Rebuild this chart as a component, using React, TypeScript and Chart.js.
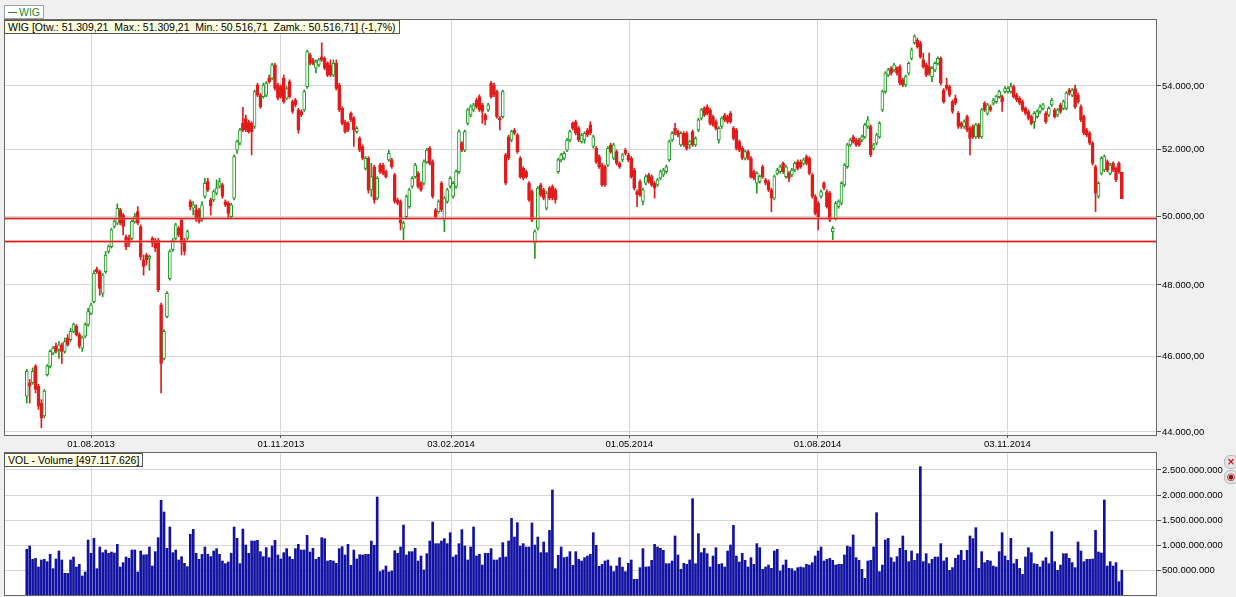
import React, { useEffect, useRef } from 'react';
import { Chart, registerables } from 'chart.js';

Chart.register(...registerables);

// ---- WIG daily candles (trading-day index 0 = early July 2013) ----
const openValues = [
  44940, 45300, 45300, 45750, 45210, 44760, 44420, 45520, 45750, 46100,
  46290, 46200, 46330, 46150, 46520, 46470, 46700, 46840, 46610, 46240,
  46570, 46890, 47200, 47530, 48450, 48380, 47760, 48380, 48960, 49100,
  49690, 49790, 50180, 50030, 49390, 49340, 49340, 49840, 50130, 49690,
  48720, 48860, 48760, 49340, 49290, 49290, 47440, 45960, 47110, 48180,
  49010, 49340, 49640, 49880, 49290, 49340, 50430, 50230, 50180, 50180,
  49890, 50580, 51030, 50480, 50480, 50680, 50880, 50930, 50430, 50380,
  49980, 50530, 51990, 52200, 52820, 52970, 52870, 52820, 52720, 54030,
  53710, 53660, 53710, 54250, 54250, 54680, 54030, 53980, 54250, 53610,
  54140, 53500, 53550, 53240, 53190, 53240, 53980, 55000, 54840, 54570,
  54680, 54940, 54890, 54730, 54680, 54350, 54730, 54030, 53290, 52870,
  52820, 53130, 52980, 52560, 52350, 52100, 51430, 51740, 50780, 51480,
  50530, 51530, 51530, 51330, 51690, 51690, 51230, 50480, 50430, 49640,
  49980, 50280, 50880, 51180, 51280, 50980, 50980, 51630, 52040, 51630,
  50180, 50130, 50980, 49880, 50430, 50880, 50580, 50880, 51330, 52200,
  51990, 52820, 53080, 53240, 53555, 53660, 53400, 53080, 53240, 54090,
  54030, 53820, 52980, 53030, 51840, 52400, 52300, 52610, 52450, 51740,
  51430, 51330, 50980, 50730, 49200, 49640, 50930, 50780, 50230, 50830,
  50880, 50780, 51330, 51690, 51740, 51990, 52300, 52820, 52870, 52660,
  52250, 52300, 52610, 52770, 52100, 52040, 51790, 51530, 51480, 51530,
  52150, 51740, 51940, 51580, 51690, 51990, 51840, 51740, 51380, 50730,
  51030, 50430, 50980, 51230, 51180, 50980, 50930, 51130, 51230, 51330,
  51690, 52300, 52660, 52560, 52150, 52510, 52510, 52150, 52560, 52150,
  52610, 52980, 53290, 53340, 53240, 53030, 52870, 52300, 52720, 53080,
  53030, 53130, 52660, 52610, 52250, 52040, 51740, 51940, 51740, 51330,
  50980, 51030, 51480, 51080, 51030, 50780, 50530, 51280, 51330, 51580,
  51180, 51280, 51230, 51380, 51630, 51630, 51580, 51790, 51740, 51230,
  50580, 50380, 50580, 50980, 50730, 50680, 49540, 49930, 50280, 50380,
  50930, 51480, 52150, 52400, 52300, 52300, 52300, 52400, 52720, 52720,
  52040, 52200, 52400, 53240, 53820, 54350, 54570, 54515, 54570, 54620,
  54200, 54030, 54410, 54890, 55400, 55490, 55400, 54840, 54680, 54620,
  54300, 54515, 54730, 54890, 53870, 54030, 53980, 53500, 53610, 53130,
  52820, 52720, 53030, 52660, 52720, 52400, 52770, 52400, 53450, 53130,
  53340, 53450, 53500, 53660, 53660, 53820, 53820, 53820, 53980, 53710,
  53610, 53500, 53290, 53190, 53030, 52870, 53030, 53190, 53290, 53130,
  53080, 53400, 53240, 53080, 53400, 53290, 53290, 53870, 53710, 53920,
  53710, 53340, 53030, 52610, 52510, 52200, 51480, 50580, 51280, 51380,
  51630, 51280, 51580, 51430, 51580, 51309.21,
];

const highValues = [
  45660, 45390, 45700, 45790, 45260, 44850, 45120, 45790, 46190, 46290,
  46380, 46420, 46380, 46520, 46610, 46790, 46930, 46890, 46660, 46570,
  46930, 47340, 47490, 48420, 48510, 48420, 48330, 48960, 49150, 49640,
  49930, 50360, 50230, 50080, 49440, 49440, 49890, 50080, 50280, 49740,
  48860, 48910, 48860, 49390, 49340, 49340, 47490, 46750, 47810, 49010,
  49340, 49790, 49690, 49930, 49340, 49590, 50480, 50430, 50330, 50230,
  50430, 51130, 51130, 50530, 50780, 51080, 51130, 50980, 50480, 50430,
  50380, 51840, 52300, 52660, 53320, 53080, 52920, 52870, 53870, 54090,
  53760, 54090, 54140, 54350, 54730, 54730, 54090, 54030, 54350, 53980,
  54200, 53560, 53610, 53290, 53240, 53870, 55160, 55060, 54890, 54840,
  54890, 55400, 54940, 54780, 54840, 54840, 54840, 54090, 53340, 52920,
  52870, 53180, 53030, 52720, 52400, 52150, 51790, 51790, 51580, 51530,
  51180, 51580, 51580, 51380, 51990, 51740, 51280, 50530, 50480, 49840,
  50630, 50830, 51180, 51580, 51330, 51030, 51690, 52040, 52100, 51690,
  50230, 50480, 51030, 50580, 50830, 51180, 51030, 51380, 52620, 52250,
  52610, 53290, 53400, 53450, 53610, 53720, 53450, 53130, 53450, 54150,
  54090, 53870, 53030, 53870, 51890, 52450, 52610, 52660, 52500, 51790,
  51480, 51380, 51030, 50780, 49590, 50880, 50980, 50830, 50730, 50880,
  50930, 50830, 51740, 51890, 51940, 52350, 52610, 52870, 52920, 52720,
  52500, 52560, 52660, 52870, 52450, 52100, 51840, 51580, 51530, 52100,
  52200, 52200, 51990, 51630, 51890, 52040, 51890, 51790, 51430, 50780,
  51080, 50830, 51230, 51280, 51230, 51030, 51130, 51380, 51430, 51530,
  52300, 52560, 52820, 52610, 52560, 52560, 52560, 52300, 52610, 52400,
  52980, 53290, 53340, 53400, 53290, 53080, 52925, 52720, 53030, 53130,
  53080, 53190, 52720, 52660, 52300, 52100, 51990, 51990, 51790, 51380,
  51330, 51230, 51530, 51130, 51080, 50830, 51230, 51430, 51530, 51630,
  51530, 51330, 51430, 51630, 51690, 51690, 51740, 51840, 51790, 51280,
  50630, 50430, 50780, 51030, 50780, 50730, 49690, 50430, 50480, 51030,
  51580, 52200, 52350, 52450, 52350, 52350, 52450, 52820, 53030, 52770,
  52200, 52510, 52870, 53870, 54460, 54570, 54620, 54730, 54620, 54680,
  54250, 54350, 54780, 55230, 55660, 55550, 55450, 55060, 54730, 55060,
  54620, 54780, 54940, 54940, 53920, 54250, 54030, 53555, 53710, 53190,
  52870, 52925, 53080, 52720, 52770, 52820, 52820, 53290, 53500, 53450,
  53400, 53610, 53710, 53870, 53710, 53980, 53980, 54090, 54030, 53770,
  53660, 53555, 53340, 53240, 53080, 53190, 53240, 53400, 53450, 53190,
  53340, 53610, 53290, 53290, 53450, 53555, 53820, 53920, 53920, 54030,
  53770, 53400, 53080, 52660, 52560, 52250, 51530, 51030, 51790, 51840,
  51690, 51580, 51630, 51480, 51630, 51309.21,
];

const lowValues = [
  44760, 44760, 45260, 45030, 44590, 44110, 44370, 45480, 45700, 46060,
  46100, 45960, 45820, 46100, 46290, 46420, 46660, 46570, 46240, 46150,
  46520, 46840, 47160, 47490, 48330, 47710, 47670, 48330, 48910, 49060,
  49640, 49740, 49740, 49440, 49010, 49100, 49290, 49790, 49740, 48720,
  48280, 48570, 48420, 49100, 48960, 47810, 45030, 45920, 47070, 48140,
  48960, 49290, 49390, 48860, 48860, 49290, 50180, 50030, 49840, 49790,
  49840, 50530, 50730, 50030, 50430, 50630, 50830, 50530, 50280, 49930,
  49930, 50480, 51890, 52150, 52560, 52560, 52510, 51840, 52660, 53660,
  53290, 53610, 53660, 54090, 54200, 53870, 53560, 53610, 53450, 53560,
  53610, 53130, 53340, 52510, 53030, 53190, 53920, 54680, 54680, 54420,
  54620, 54790, 54520, 54300, 54300, 54300, 53870, 53190, 52770, 52510,
  52560, 52870, 52100, 52510, 51940, 51690, 51380, 50680, 50580, 50380,
  50480, 51280, 51230, 51130, 51640, 51430, 50380, 50330, 49590, 49300,
  49930, 50230, 50830, 51130, 50830, 50730, 50930, 51580, 51530, 50530,
  49930, 50080, 50130, 49540, 50380, 50830, 50530, 50830, 51280, 51940,
  51940, 52770, 53030, 53190, 53290, 53190, 52820, 52770, 53190, 53610,
  53660, 52980, 52610, 52980, 50930, 51690, 52250, 52460, 51890, 51130,
  51080, 51130, 50430, 49830, 48760, 49590, 50580, 50480, 50180, 50480,
  50480, 50380, 51280, 51630, 51690, 51940, 52250, 52610, 52460, 52250,
  52200, 52200, 52400, 52460, 52050, 51580, 51430, 50880, 50880, 51480,
  51890, 51690, 51530, 51430, 51630, 51840, 51630, 51130, 50780, 50280,
  50580, 50330, 50930, 50980, 50880, 50530, 50880, 51080, 51180, 51280,
  51640, 52250, 52460, 52400, 52100, 52100, 51990, 52040, 52100, 52100,
  52560, 52925, 53030, 53080, 52770, 52720, 52610, 52200, 52660, 52870,
  52820, 52820, 52300, 51990, 51940, 51690, 51690, 51690, 51130, 51080,
  50680, 50980, 51130, 50930, 50730, 50130, 50480, 51230, 51280, 51280,
  51130, 51030, 51180, 51330, 51380, 51430, 51530, 51530, 51230, 50530,
  50030, 49590, 50530, 50780, 50230, 49830, 49300, 49880, 50230, 50330,
  50880, 51430, 52100, 52200, 52100, 52100, 52250, 52350, 52660, 51790,
  51990, 52150, 52350, 53190, 53770, 54300, 54350, 54460, 54350, 54030,
  53980, 53980, 54350, 54840, 55350, 55220, 54890, 54570, 54300, 54350,
  54140, 54460, 54680, 54030, 53450, 53870, 53660, 53130, 53400, 52660,
  52660, 52660, 52560, 51840, 52350, 52350, 52350, 52350, 53190, 53080,
  53190, 53400, 53450, 53610, 53190, 53770, 53770, 53770, 53610, 53500,
  53400, 53190, 53080, 52925, 52770, 52660, 52980, 53130, 53240, 52820,
  53030, 53350, 52980, 53030, 53130, 53240, 53240, 53710, 53660, 53290,
  53450, 52870, 52460, 52400, 52150, 51530, 50130, 50530, 51230, 51330,
  51330, 51230, 51330, 51030, 51280, 50516.71,
];

const closeValues = [
  45610, 45210, 45610, 45120, 44680, 44370, 45080, 45750, 46150, 46240,
  46150, 46330, 46150, 46420, 46330, 46700, 46890, 46610, 46290, 46520,
  46890, 47250, 47440, 48330, 48380, 47900, 48280, 48860, 49100, 49590,
  49840, 50230, 49790, 49690, 49100, 49200, 49840, 49980, 49790, 48810,
  48530, 48720, 48820, 49200, 49060, 47860, 45820, 46700, 47760, 48960,
  49290, 49740, 49440, 49200, 48960, 49540, 50280, 50330, 49930, 49840,
  50330, 50980, 50780, 50300, 50730, 50830, 51030, 50580, 50330, 50080,
  50330, 51790, 52250, 52610, 52610, 52610, 52560, 52560, 53820, 53710,
  53340, 54030, 54090, 54140, 54680, 53920, 53610, 53660, 53500, 53920,
  53660, 53190, 53400, 52610, 53080, 53820, 55110, 54730, 54730, 54780,
  54840, 54840, 54570, 54350, 54350, 54730, 53920, 53240, 52820, 52560,
  52610, 52930, 52610, 52660, 51990, 51740, 51740, 50780, 51180, 50480,
  51130, 51330, 51280, 51180, 51890, 51480, 50430, 50380, 49790, 49790,
  50580, 50780, 51130, 51530, 50880, 50780, 51630, 51990, 51580, 50580,
  49980, 50430, 50180, 50530, 50780, 51130, 50980, 51330, 52560, 51990,
  52560, 53240, 53340, 53400, 53340, 53240, 53190, 52925, 53400, 53660,
  53720, 53030, 52925, 53820, 50980, 51740, 52560, 52510, 51940, 51180,
  51130, 51180, 50480, 49880, 49540, 50830, 50630, 50530, 50680, 50530,
  50530, 50480, 51690, 51840, 51890, 52300, 52560, 52660, 52510, 52300,
  52450, 52510, 52450, 52510, 52400, 51630, 51480, 50930, 50930, 52040,
  51940, 52150, 51580, 51480, 51840, 51890, 51690, 51180, 50830, 50630,
  50630, 50780, 51180, 51030, 50930, 50830, 51080, 51330, 51380, 51480,
  52250, 52510, 52510, 52450, 52510, 52150, 52040, 52250, 52150, 52350,
  52925, 53240, 53080, 53130, 52820, 52770, 52660, 52660, 52980, 52925,
  52870, 52870, 52350, 52040, 51990, 51740, 51940, 51740, 51180, 51130,
  51280, 51180, 51180, 50980, 50780, 50530, 51180, 51380, 51480, 51330,
  51480, 51130, 51380, 51580, 51430, 51480, 51690, 51580, 51280, 50580,
  50080, 49980, 50730, 50830, 50280, 49880, 49640, 50380, 50430, 50980,
  51530, 52150, 52300, 52250, 52150, 52150, 52400, 52770, 52925, 51840,
  52150, 52460, 52820, 53820, 54410, 54515, 54410, 54680, 54410, 54090,
  54030, 54300, 54730, 55170, 55600, 55270, 54940, 54620, 54350, 54410,
  54570, 54730, 54890, 54090, 53500, 53920, 53710, 53190, 53450, 52720,
  52720, 52870, 52610, 52350, 52400, 52770, 52400, 53240, 53240, 53400,
  53240, 53555, 53660, 53820, 53500, 53920, 53920, 53980, 53660, 53555,
  53450, 53240, 53130, 52980, 52820, 53130, 53190, 53340, 53400, 52870,
  53290, 53555, 53030, 53240, 53190, 53500, 53770, 53770, 53870, 53340,
  53500, 52925, 52510, 52460, 52200, 51580, 50680, 50980, 51740, 51790,
  51380, 51530, 51380, 51080, 51330, 50516.71,
];

// ---- daily turnover volume, millions ----
const volumeMln = [
  913, 980, 713, 733, 560, 700, 713, 667, 813, 527,
  720, 880, 700, 433, 433, 700, 760, 560, 613, 380,
  460, 1100, 833, 1133, 527, 960, 847, 900, 833, 860,
  840, 1013, 560, 647, 760, 733, 900, 900, 460, 880,
  800, 807, 960, 580, 867, 1147, 1893, 1660, 933, 1360,
  847, 900, 700, 767, 633, 567, 1213, 1313, 833, 713,
  813, 960, 813, 767, 880, 927, 813, 680, 627, 660,
  833, 1360, 1133, 627, 1320, 1000, 833, 1080, 1080, 1093,
  867, 767, 947, 747, 980, 1093, 800, 720, 847, 927,
  767, 713, 927, 1013, 900, 900, 1193, 860, 933, 713,
  753, 1147, 1127, 680, 693, 680, 633, 927, 967, 800,
  1013, 593, 900, 720, 807, 800, 813, 813, 1080, 993,
  1960, 467, 500, 580, 460, 480, 887, 833, 960, 1400,
  800, 867,
  867, 933, 680, 780, 500, 827, 1080, 1460, 1027, 1027,
  1080, 1127, 1027, 1247, 760, 800, 1027, 1307, 980, 700,
  960, 1360, 780, 813, 600, 833, 833, 927, 700, 700,
  747, 1047, 760, 1080, 1533, 1160, 1447, 980, 1027, 960,
  960, 1440, 1000, 1160, 847, 1060, 847, 1293, 2100, 527,
  793, 960, 747, 760, 867, 593, 867, 713, 680, 747,
  780, 813, 1247, 993, 573, 613, 680, 700, 580, 467,
  580, 747, 560, 467, 633, 700, 313, 313, 547, 927,
  560, 567, 693, 1013, 960, 933, 893, 627, 627, 680,
  1180, 800, 513, 633, 613, 700, 1927, 627, 1227, 847,
  933, 827, 560, 780, 947, 613, 627, 560, 880, 1000,
  1393, 780, 660, 833, 693, 560, 747, 613, 1027, 947,
  513, 560, 600, 533, 880, 913, 480, 600, 700, 533,
  527, 480, 547, 560, 547, 613, 600, 647, 780, 880,
  960, 680, 713, 733, 693, 600, 613, 613, 800, 980,
  960, 1200, 747, 693, 513, 333, 680, 693, 960, 1647,
  467, 600, 1100, 1133, 747, 660, 767, 933, 1180, 893,
  667, 880, 693, 827, 2567, 667, 827, 627, 713, 760,
  760, 1027, 680, 747, 493, 547, 733, 800, 893, 693,
  893, 1180, 1127, 1347, 533, 867, 647, 693, 680, 580,
  560, 867, 1247, 780, 693, 1133, 627, 713, 533, 413,
  760, 947, 847, 627, 613, 560, 680, 747, 627, 1267,
  667, 493, 600, 827, 827, 733, 647, 547, 1060, 880,
  667, 713, 713,
  720, 1293, 860, 840, 1900, 580, 667, 580, 647, 267, 497,
];

// ---- axes ----
const xTickDayIndex = [22, 87, 145.3, 206.3, 270.8, 335.8];
const xTickLabels = ['01.08.2013', '01.11.2013', '03.02.2014', '01.05.2014', '01.08.2014', '03.11.2014'];
const priceTicks = [44000, 46000, 48000, 50000, 52000, 54000];
const volumeTicksMln = [500, 1000, 1500, 2000, 2500];
const supportLevels = [49930, 49270];

const X_MIN = -7.8;
const X_MAX = 386.7;
const FONT = "'Liberation Sans', Arial, sans-serif";
const UP = '#1e9a1e';
const DOWN = '#e21b1b';
const GRID = '#d7d7d7';
const FRAME = '#6a6a6a';
const BG = '#f0f0f0';

const fmt = (v: number, d: number) =>
  v.toLocaleString('de-DE', { minimumFractionDigits: d, maximumFractionDigits: d });

const panelPlugin = {
  id: 'panel',
  beforeDraw(chart: any) {
    const { ctx, chartArea: a } = chart;
    ctx.save();
    ctx.fillStyle = '#ffffff';
    ctx.fillRect(a.left, a.top, a.right - a.left, a.bottom - a.top);
    ctx.restore();
  },
  afterDraw(chart: any) {
    const { ctx, chartArea: a } = chart;
    ctx.save();
    ctx.strokeStyle = FRAME;
    ctx.lineWidth = 1;
    ctx.strokeRect(a.left + 0.5, a.top + 0.5, a.right - a.left, a.bottom - a.top);
    ctx.restore();
  },
};

const supportPlugin = {
  id: 'support',
  afterDatasetsDraw(chart: any) {
    const { ctx, chartArea: a } = chart;
    const ys = chart.scales.y;
    ctx.save();
    supportLevels.forEach((lv) => {
      const y = Math.round(ys.getPixelForValue(lv)) + 0.5;
      ctx.beginPath();
      ctx.moveTo(a.left, y);
      ctx.lineTo(a.right, y);
      ctx.strokeStyle = 'rgba(240,160,160,0.45)';
      ctx.lineWidth = 3;
      ctx.stroke();
      ctx.beginPath();
      ctx.moveTo(a.left, y);
      ctx.lineTo(a.right, y);
      ctx.strokeStyle = '#e01c1c';
      ctx.lineWidth = 1.5;
      ctx.stroke();
    });
    ctx.restore();
  },
};

const tickFont = { family: FONT, size: 9.5 };

export default function App() {
  const priceRef = useRef<HTMLCanvasElement | null>(null);
  const volRef = useRef<HTMLCanvasElement | null>(null);

  useEffect(() => {
    const idx = closeValues.map((_, i) => i);
    const isUp = idx.map((i) => closeValues[i] >= openValues[i]);

    const price = new Chart(priceRef.current as HTMLCanvasElement, {
      type: 'bar',
      data: {
        datasets: [
          {
            label: 'body',
            data: idx.map((i) => ({ x: i, y: [openValues[i], closeValues[i]] })) as any,
            backgroundColor: isUp.map((u) => (u ? '#ffffff' : DOWN)),
            borderColor: isUp.map((u) => (u ? UP : DOWN)),
            borderWidth: 1,
            borderSkipped: false,
            barThickness: 3,
            grouped: false,
            order: 1,
          } as any,
          {
            label: 'wick',
            data: idx.map((i) => ({ x: i, y: [lowValues[i], highValues[i]] })) as any,
            backgroundColor: isUp.map((u) => (u ? UP : DOWN)),
            borderWidth: 0,
            barThickness: 1,
            grouped: false,
            order: 2,
          } as any,
        ],
      },
      options: {
        responsive: false,
        animation: false,
        events: [],
        layout: { padding: { left: 4, top: 19, right: 0, bottom: 0 } },
        plugins: { legend: { display: false }, tooltip: { enabled: false } },
        scales: {
          x: {
            type: 'linear',
            min: X_MIN,
            max: X_MAX,
            offset: false,
            grid: { offset: false, color: GRID, tickColor: '#555', tickLength: 3 },
            border: { display: false },
            ticks: {
              autoSkip: false,
              maxRotation: 0,
              padding: 1,
              color: '#000',
              font: tickFont,
              callback: (_v: any, i: number) => xTickLabels[i] ?? '',
            },
            afterBuildTicks: (s: any) => {
              s.ticks = xTickDayIndex.map((v) => ({ value: v }));
            },
            afterFit: (s: any) => {
              s.height = 15;
              s.paddingLeft = 0;
              s.paddingRight = 0;
            },
          } as any,
          y: {
            type: 'logarithmic',
            position: 'right',
            min: 43921,
            max: 56184,
            grid: { color: GRID, tickColor: '#555', tickLength: 5 },
            border: { display: false },
            ticks: {
              padding: 1,
              color: '#000',
              font: tickFont,
              callback: (v: any) => fmt(Number(v), 2),
            },
            afterBuildTicks: (s: any) => {
              s.ticks = priceTicks.map((v) => ({ value: v }));
            },
            afterFit: (s: any) => {
              s.width = 80;
              s.paddingTop = 0;
              s.paddingBottom = 0;
            },
          } as any,
        },
      },
      plugins: [panelPlugin, supportPlugin],
    });

    const volume = new Chart(volRef.current as HTMLCanvasElement, {
      type: 'bar',
      data: {
        datasets: [
          {
            label: 'VOL',
            data: volumeMln.map((v, i) => ({ x: i, y: v })) as any,
            backgroundColor: '#1212a2',
            borderWidth: 0,
            barThickness: 2,
            grouped: false,
          } as any,
        ],
      },
      options: {
        responsive: false,
        animation: false,
        events: [],
        layout: { padding: { left: 4, top: 2, right: 0, bottom: 2 } },
        plugins: { legend: { display: false }, tooltip: { enabled: false } },
        scales: {
          x: {
            type: 'linear',
            min: X_MIN,
            max: X_MAX,
            offset: false,
            grid: { offset: false, color: GRID, drawTicks: false },
            border: { display: false },
            ticks: { display: false },
            afterBuildTicks: (s: any) => {
              s.ticks = xTickDayIndex.map((v) => ({ value: v }));
            },
            afterFit: (s: any) => {
              s.height = 0;
              s.paddingLeft = 0;
              s.paddingRight = 0;
            },
          } as any,
          y: {
            type: 'linear',
            position: 'right',
            min: 0,
            max: 2860,
            grid: { color: GRID, tickColor: '#555', tickLength: 5 },
            border: { display: false },
            ticks: {
              padding: 1,
              color: '#000',
              font: tickFont,
              callback: (v: any) => fmt(Number(v) * 1e6, 0),
            },
            afterBuildTicks: (s: any) => {
              s.ticks = volumeTicksMln.map((v) => ({ value: v }));
            },
            afterFit: (s: any) => {
              s.width = 80;
              s.paddingTop = 0;
              s.paddingBottom = 0;
            },
          } as any,
        },
      },
      plugins: [panelPlugin],
    });

    return () => {
      price.destroy();
      volume.destroy();
    };
  }, []);

  const boxText: React.CSSProperties = {
    position: 'absolute',
    fontFamily: FONT,
    fontSize: 10.5,
    lineHeight: '12px',
    whiteSpace: 'pre',
    color: '#000',
  };

  return (
    <div
      style={{
        position: 'fixed',
        left: 0,
        top: 0,
        width: 1236,
        height: 597,
        background: BG,
        overflow: 'hidden',
      }}
    >
      <canvas
        ref={priceRef}
        width={1236}
        height={450}
        style={{ position: 'absolute', left: 0, top: 0, width: 1236, height: 450 }}
      />
      <canvas
        ref={volRef}
        width={1236}
        height={147}
        style={{ position: 'absolute', left: 0, top: 450, width: 1236, height: 147 }}
      />
      <div
        style={{
          ...boxText,
          left: 4,
          top: 5,
          height: 12,
          padding: '0 3px',
          background: '#ffffff',
          border: '1px solid #a0a0a0',
          color: '#2a8a2a',
          display: 'flex',
          alignItems: 'center',
        }}
      >
        <span style={{ display: 'inline-block', width: 9, height: 1, background: '#2a8a2a', marginRight: 2 }} />
        WIG
      </div>
      <div
        style={{
          ...boxText,
          left: 4,
          top: 20,
          height: 12,
          padding: '0 3px',
          background: '#ffffe1',
          border: '1px solid #555',
        }}
      >
        {'WIG [Otw.: 51.309,21  Max.: 51.309,21  Min.: 50.516,71  Zamk.: 50.516,71] (-1,7%)'}
      </div>
      <div
        style={{
          ...boxText,
          left: 4,
          top: 453,
          height: 12,
          padding: '0 3px',
          background: '#ffffe1',
          border: '1px solid #555',
        }}
      >
        {'VOL - Volume [497.117.626]'}
      </div>
      <div
        style={{
          position: 'absolute',
          left: 1224,
          top: 455,
          width: 12,
          height: 12,
          borderRadius: 6,
          background: '#e4e4e4',
          border: '1px solid #b8b8b8',
          color: '#d01010',
          fontFamily: "'DejaVu Sans', sans-serif",
          fontWeight: 'bold',
          fontSize: 10,
          lineHeight: '12px',
          textAlign: 'center',
        }}
      >
        ×
      </div>
      <div
        style={{
          position: 'absolute',
          left: 1224,
          top: 470,
          width: 12,
          height: 12,
          borderRadius: 6,
          background: '#e4e4e4',
          border: '1px solid #b8b8b8',
          color: '#901010',
          fontFamily: "'DejaVu Sans', sans-serif",
          fontSize: 10,
          lineHeight: '12px',
          textAlign: 'center',
        }}
      >
        ◉
      </div>
    </div>
  );
}
